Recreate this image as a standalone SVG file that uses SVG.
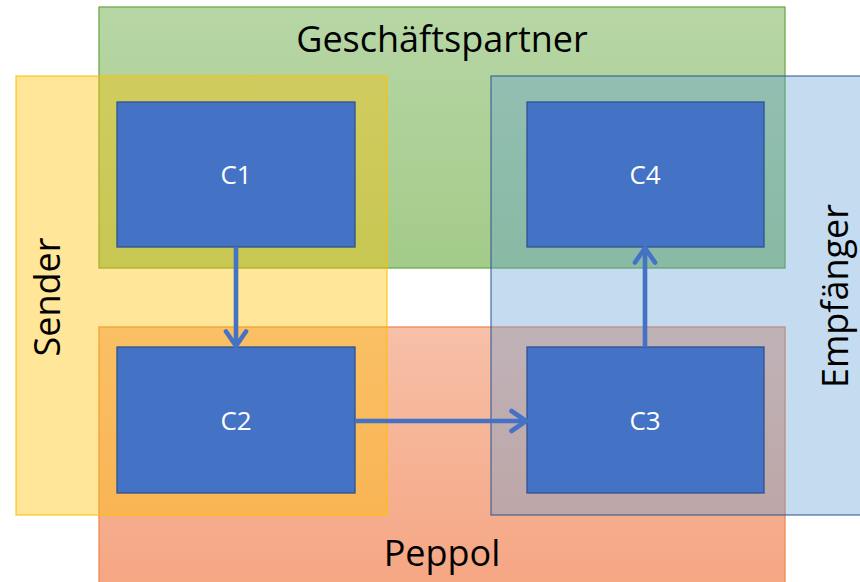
<svg xmlns="http://www.w3.org/2000/svg" width="860" height="582" viewBox="0 0 860 582">
<defs>
<linearGradient id="gGreen" x1="0" y1="0" x2="0" y2="1"><stop offset="0" stop-color="#B7D6A5"/><stop offset="1" stop-color="#A3CB89"/></linearGradient>
<linearGradient id="gOrange" x1="0" y1="0" x2="0" y2="1"><stop offset="0" stop-color="#F7C0A8"/><stop offset="1" stop-color="#F5A683"/></linearGradient>
<marker id="arr" viewBox="0 0 26 26" refX="23" refY="13" markerWidth="26" markerHeight="26" markerUnits="userSpaceOnUse" orient="auto">
<path d="M8.5,3 L23,13 L8.5,23" fill="none" stroke="#4472C4" stroke-width="4.6" stroke-linecap="round" stroke-linejoin="round"/>
</marker>
</defs>
<style>
.lbl{font-family:"Open Sans","Liberation Sans",sans-serif;font-size:36px;fill:#000;text-anchor:middle}
.node rect{fill:#4472C4;stroke:#2F528F;stroke-width:1.3}
.node text{font-family:"Open Sans","Liberation Sans",sans-serif;font-size:26px;fill:#fff;text-anchor:middle;dominant-baseline:central}
.conn{fill:none;stroke:#4472C4;stroke-width:4.6;marker-end:url(#arr)}
</style>
<g id="geschaeftspartner">
<rect x="99" y="7" width="686" height="261" fill="url(#gGreen)" stroke="#6FAA4A" stroke-width="1.3"/>
<text class="lbl" x="442" y="52">Geschäftspartner</text>
</g>
<g id="peppol">
<rect x="99" y="327" width="686" height="256" fill="url(#gOrange)" stroke="#EE8B55" stroke-width="1.3"/>
<text class="lbl" x="442" y="566">Peppol</text>
</g>
<g id="sender">
<rect x="16" y="76" width="371" height="439" fill="#FFC000" fill-opacity="0.4" stroke="#FFC000" stroke-width="1.3" stroke-opacity="0.8"/>
<text class="lbl" transform="translate(60,297) rotate(-90)">Sender</text>
</g>
<g id="empfaenger">
<rect x="491" y="76" width="370" height="439" fill="#5B9BD5" fill-opacity="0.36" stroke="#2F5597" stroke-width="1.3" stroke-opacity="0.8"/>
<text class="lbl" transform="translate(848,296) rotate(-90)">Empfänger</text>
</g>
<g id="c1" class="node"><rect x="117" y="102" width="238" height="145"/><text x="236" y="174">C1</text></g>
<g id="c2" class="node"><rect x="117" y="347" width="238" height="146"/><text x="236" y="420">C2</text></g>
<g id="c3" class="node"><rect x="527" y="347" width="237" height="146"/><text x="645" y="420">C3</text></g>
<g id="c4" class="node"><rect x="527" y="102" width="237" height="145"/><text x="645" y="174">C4</text></g>
<g id="connectors">
<path class="conn" d="M236,247 L236,346"/>
<path class="conn" d="M355,421 L526,421"/>
<path class="conn" d="M645,347 L645,248"/>
</g>
</svg>
